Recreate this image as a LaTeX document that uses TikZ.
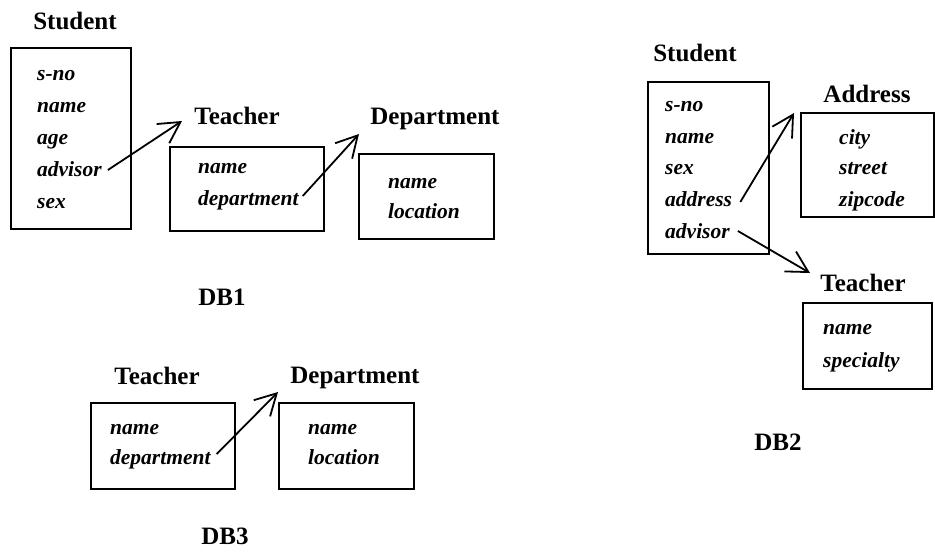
\documentclass[tikz,border=0pt]{standalone}
\usepackage{fontspec}
\setmainfont{Liberation Serif}
\usetikzlibrary{arrows.meta}
\begin{document}
\begin{tikzpicture}[x=1pt,y=-1pt,
  box/.style={draw, line width=2pt, inner sep=0pt, anchor=north west},
  title/.style={font=\fontsize{25}{28}\selectfont\bfseries, inner sep=0pt},
  field/.style={font=\fontsize{21.5}{24}\selectfont\bfseries\itshape, inner sep=0pt, anchor=west, text height=0.7em, text depth=0.2em},
  link/.style={line width=1.8pt, -{Straight Barb[length=21pt,width=23pt,line width=1.8pt]}}]
\useasboundingbox (0,0) rectangle (935,555);
% ---------- DB1 ----------
\node[title] (t1s) at (75,21) {Student};
\node[box, minimum width=120pt, minimum height=181pt] (b1s) at (10,47) {};
\node[field] (f1sno) at (37,78) {s-no};
\node[field] (f1sname) at (37,110) {name};
\node[field] (f1sage) at (37,142) {age};
\node[field] (f1sadv) at (37,174) {advisor};
\node[field] (f1ssex) at (37,206) {sex};
\node[title] (t1t) at (237,116) {Teacher};
\node[box, minimum width=154pt, minimum height=84pt] (b1t) at (169,146) {};
\node[field] (f1tname) at (198,171) {name};
\node[field] (f1tdep) at (198,203) {department};
\node[title] (t1d) at (435,119) {Department};
\node[box, minimum width=135pt, minimum height=85pt] (b1d) at (358,153) {};
\node[field] (f1dname) at (388,186) {name};
\node[field] (f1dloc) at (388,216) {location};
\coordinate (a1) at (182,121);
\coordinate (a2) at (359,134);
\draw[link] (f1sadv.east) ++(6,-4) -- (a1);
\draw[link] (f1tdep.east) ++(4,-7) -- (a2);
\node[title] (db1) at (222,297) {DB1};
% ---------- DB2 ----------
\node[title] (t2s) at (695,53) {Student};
\node[box, minimum width=121pt, minimum height=172pt] (b2s) at (647,81) {};
\node[field] (f2sno) at (665,109) {s-no};
\node[field] (f2sname) at (665,141) {name};
\node[field] (f2ssex) at (665,172) {sex};
\node[field] (f2sadr) at (665,204) {address};
\node[field] (f2sadv) at (665,236) {advisor};
\node[title] (t2a) at (867,94) {Address};
\node[box, minimum width=133pt, minimum height=104pt] (b2a) at (800,112) {};
\node[field] (f2acity) at (839,142) {city};
\node[field] (f2astr) at (839,172) {street};
\node[field] (f2azip) at (839,204) {zipcode};
\node[title] (t2t) at (863,283) {Teacher};
\node[box, minimum width=129pt, minimum height=86pt] (b2t) at (802,302) {};
\node[field] (f2tname) at (823,332) {name};
\node[field] (f2tspec) at (823,365) {specialty};
\coordinate (a3) at (794,113);
\coordinate (a4) at (810,273);
\draw[link] (f2sadr.east) ++(8,-2) -- (a3);
\draw[link] (f2sadv.east) ++(8,-5) -- (a4);
\node[title] (db2) at (778,442) {DB2};
% ---------- DB3 ----------
\node[title] (t3t) at (157,376) {Teacher};
\node[box, minimum width=144pt, minimum height=86pt] (b3t) at (90,402) {};
\node[field] (f3tname) at (110,432) {name};
\node[field] (f3tdep) at (110,462) {department};
\node[title] (t3d) at (355,378) {Department};
\node[box, minimum width=135pt, minimum height=86pt] (b3d) at (278,402) {};
\node[field] (f3dname) at (308,432) {name};
\node[field] (f3dloc) at (308,462) {location};
\coordinate (a5) at (278,392);
\draw[link] (f3tdep.east) ++(6,-8) -- (a5);
\node[title] (db3) at (225,536) {DB3};
\end{tikzpicture}
\end{document}
